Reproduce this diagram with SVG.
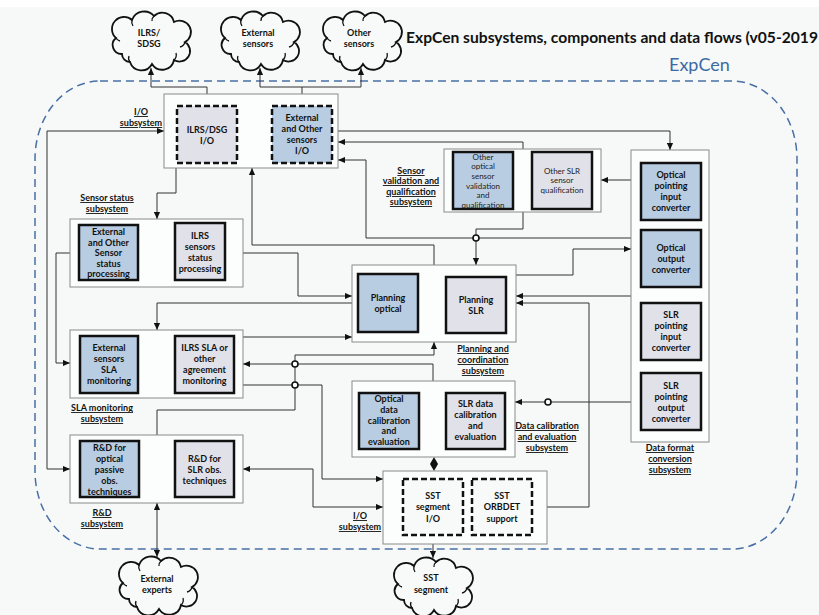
<svg xmlns="http://www.w3.org/2000/svg" width="819" height="615" viewBox="0 0 819 615">
<style>
.bg{fill:#f6f9f8}
.outer{fill:#fcfdfd;stroke:#8a8a8a;stroke-width:1}
.blue{fill:#b9cde2;stroke:#111;stroke-width:2.5}
.lav{fill:#e1e1ea;stroke:#111;stroke-width:2.5}
.dash{stroke-dasharray:6 3}
.plain{fill:#f8faf9;stroke:#111;stroke-width:2.5}
.cloud{fill:#f8faf9;stroke:#111;stroke-width:1.8}
.curl{fill:none;stroke:#111;stroke-width:1.3}
.t{font-family:Lato,"Liberation Sans",sans-serif;font-size:9px;font-weight:bold;text-anchor:middle;fill:#111}
.tn{font-family:Lato,"Liberation Sans",sans-serif;font-size:8px;text-anchor:middle;fill:#222}
.lbl{font-family:Lato,"Liberation Sans",sans-serif;font-size:9px;font-weight:bold;text-anchor:middle;fill:#111;text-decoration:underline}
.c{fill:none;stroke:#333;stroke-width:1}
.e{marker-end:url(#ah)}
.s{marker-start:url(#ah)}
.hop{fill:#fff;stroke:#111;stroke-width:1.6}
</style>
<defs>
<marker id="ah" viewBox="0 0 8 8" refX="8" refY="4" markerWidth="7" markerHeight="7" markerUnits="userSpaceOnUse" orient="auto-start-reverse">
<path d="M0,0.5 L8,4 L0,7.5 Z" fill="#111"/>
</marker>
<g id="cloud">
<path class="cloud" d="M-28,14 A9,9 0 0 1 -34,-2 A12,12 0 0 1 -18,-20 A13,13 0 0 1 4,-24 A12,12 0 0 1 24,-18 A11,11 0 0 1 35,2 A10,10 0 0 1 24,20 A12,12 0 0 1 2,24 A12,12 0 0 1 -20,22 A8,8 0 0 1 -28,14 Z"/>
<path class="curl" d="M-20,22 a6,6 0 0 1 -1,-6 M24,20 a7,7 0 0 0 2,-7 M35,2 a7,7 0 0 1 -5,5 M-18,-20 a7,7 0 0 0 1,6 M4,-24 a6,6 0 0 0 -2,5 M-34,-2 a6,6 0 0 0 4,3"/>
</g>
</defs>

<rect x="0" y="0" width="819" height="615" class="bg"/>
<rect x="0" y="0" width="819" height="7" fill="#ffffff"/>

<text x="406" y="43" font-family="Lato, 'Liberation Sans', sans-serif" font-size="15" font-weight="bold" fill="#111" textLength="412" lengthAdjust="spacingAndGlyphs">ExpCen subsystems, components and data flows (v05-2019</text>

<g id="expcen">
<rect x="35" y="81" width="762" height="468" rx="65" ry="78" fill="none" stroke="#4a6fa5" stroke-width="1.5" stroke-dasharray="8 5"/>
<text x="669" y="71" font-family="Lato, 'Liberation Sans', sans-serif" font-size="18" fill="#3d6aa3">ExpCen</text>
</g>

<g id="connectors">
<path class="c s e" d="M151,68 V87 H207 V106"/>
<path class="c s e" d="M260,68 V87 H361 V68"/>
<path class="c e" d="M302,87 V106"/>
<path class="c s e" d="M164,131 H47 V469 H70"/>
<path class="c e" d="M176,168 V193 H157 V219"/>
<path class="c e" d="M434,265 V245 H252 V168"/>
<path class="c e" d="M523,149 V142 H338"/>
<path class="c e" d="M631,238 H366 V160 H338"/>
<path class="c e" d="M523,212 V229 H476 V265"/>
<path class="c e" d="M338,131 H670 V150"/>
<path class="c e" d="M631,180 H601"/>
<path class="c e" d="M516,275 H573 V249 H631"/>
<path class="c e" d="M631,296 H516"/>
<path class="c e" d="M547,507 H589 V303 H516"/>
<path class="c e" d="M631,402 H515"/>
<path class="c e" d="M243,253 H298 V296 H352"/>
<path class="c e" d="M70,253 H56 V363 H70"/>
<path class="c e" d="M352,303 H157 V330"/>
<path class="c e" d="M243,337 H352"/>
<path class="c e" d="M433,381 V364 H243"/>
<path class="c e" d="M243,385 H322 V479 H383"/>
<path class="c s e" d="M243,469 H313 V507 H383"/>
<path class="c s" d="M434,342 V355 H295 V410 H157 V435"/>
<polygon points="434,457 438,464 434,471 430,464" fill="#111"/>
<path class="c s e" d="M157,503 V557"/>
<path class="c s e" d="M433,535 V558"/>
<circle class="hop" cx="476" cy="238" r="3"/>
<circle class="hop" cx="295" cy="364" r="3"/>
<circle class="hop" cx="295" cy="385" r="3"/>
<circle class="hop" cx="548" cy="402" r="3"/>
</g>

<g id="cloud-ilrs">
<use href="#cloud" x="150" y="40"/>
<text class="t" x="149" y="36">ILRS/</text>
<text class="t" x="149" y="47">SDSG</text>
</g>
<g id="cloud-external-sensors">
<use href="#cloud" x="259" y="40"/>
<text class="t" x="258" y="36">External</text>
<text class="t" x="258" y="47">sensors</text>
</g>
<g id="cloud-other-sensors">
<use href="#cloud" x="361" y="40"/>
<text class="t" x="359" y="36">Other</text>
<text class="t" x="359" y="47">sensors</text>
</g>
<g id="cloud-external-experts">
<use href="#cloud" x="157" y="585"/>
<text class="t" x="157" y="582">External</text>
<text class="t" x="157" y="593">experts</text>
</g>
<g id="cloud-sst-segment">
<use href="#cloud" x="432" y="586"/>
<text class="t" x="431" y="581">SST</text>
<text class="t" x="431" y="593">segment</text>
</g>

<g id="io-subsystem">
<rect class="outer" x="164" y="94" width="174" height="74"/>
<text class="lbl" x="141" y="115">I/O</text>
<text class="lbl" x="141" y="126">subsystem</text>
</g>
<g id="ilrs-dsg-io">
<rect class="lav dash" x="177" y="106" width="60" height="57"/>
<text class="t" x="207" y="133">ILRS/DSG</text>
<text class="t" x="207" y="144">I/O</text>
</g>
<g id="ext-other-sensors-io">
<rect class="blue dash" x="272" y="106" width="60" height="57"/>
<text class="t" x="302" y="121">External</text>
<text class="t" x="302" y="132">and Other</text>
<text class="t" x="302" y="143">sensors</text>
<text class="t" x="302" y="154">I/O</text>
</g>

<g id="sensor-validation-subsystem">
<rect class="outer" x="444" y="149" width="157" height="63"/>
<text class="lbl" x="411" y="174">Sensor</text>
<text class="lbl" x="411" y="184">validation and</text>
<text class="lbl" x="411" y="195">qualification</text>
<text class="lbl" x="411" y="205">subsystem</text>
</g>
<g id="other-optical-validation">
<rect class="blue" x="453" y="152" width="60" height="57"/>
<text class="tn" x="483" y="160">Other</text>
<text class="tn" x="483" y="169">optical</text>
<text class="tn" x="483" y="179">sensor</text>
<text class="tn" x="483" y="189">validation</text>
<text class="tn" x="483" y="198">and</text>
<text class="tn" x="483" y="208">qualification</text>
</g>
<g id="other-slr-qualification">
<rect class="lav" x="532" y="152" width="60" height="57"/>
<text class="tn" x="562" y="174">Other SLR</text>
<text class="tn" x="562" y="183">sensor</text>
<text class="tn" x="562" y="193">qualification</text>
</g>

<g id="data-format-subsystem">
<rect class="outer" x="631" y="150" width="78" height="292"/>
<text class="lbl" x="670" y="451">Data format</text>
<text class="lbl" x="670" y="462">conversion</text>
<text class="lbl" x="670" y="473">subsystem</text>
</g>
<g id="optical-pointing-input">
<rect class="blue" x="641" y="163" width="60" height="57"/>
<text class="t" x="671" y="178">Optical</text>
<text class="t" x="671" y="189">pointing</text>
<text class="t" x="671" y="200">input</text>
<text class="t" x="671" y="211">converter</text>
</g>
<g id="optical-output">
<rect class="blue" x="641" y="230" width="60" height="57"/>
<text class="t" x="671" y="251">Optical</text>
<text class="t" x="671" y="262">output</text>
<text class="t" x="671" y="273">converter</text>
</g>
<g id="slr-pointing-input">
<rect class="lav" x="641" y="303" width="60" height="57"/>
<text class="t" x="671" y="318">SLR</text>
<text class="t" x="671" y="329">pointing</text>
<text class="t" x="671" y="340">input</text>
<text class="t" x="671" y="351">converter</text>
</g>
<g id="slr-pointing-output">
<rect class="lav" x="641" y="373" width="60" height="57"/>
<text class="t" x="671" y="389">SLR</text>
<text class="t" x="671" y="400">pointing</text>
<text class="t" x="671" y="411">output</text>
<text class="t" x="671" y="422">converter</text>
</g>

<g id="sensor-status-subsystem">
<rect class="outer" x="70" y="219" width="173" height="68"/>
<text class="lbl" x="107" y="201">Sensor status</text>
<text class="lbl" x="107" y="212">subsystem</text>
</g>
<g id="ext-sensor-status">
<rect class="blue" x="79" y="225" width="59" height="55"/>
<text class="t" x="108.5" y="235">External</text>
<text class="t" x="108.5" y="245.5">and Other</text>
<text class="t" x="108.5" y="256">Sensor</text>
<text class="t" x="108.5" y="266.5">status</text>
<text class="t" x="108.5" y="277">processing</text>
</g>
<g id="ilrs-sensor-status">
<rect class="lav" x="175" y="223" width="50" height="57"/>
<text class="t" x="200" y="239">ILRS</text>
<text class="t" x="200" y="250">sensors</text>
<text class="t" x="200" y="261">status</text>
<text class="t" x="200" y="272">processing</text>
</g>

<g id="planning-subsystem">
<rect class="outer" x="352" y="265" width="164" height="77"/>
<text class="lbl" x="483" y="352">Planning and</text>
<text class="lbl" x="483" y="363">coordination</text>
<text class="lbl" x="483" y="374">subsystem</text>
</g>
<g id="planning-optical">
<rect class="blue" x="358" y="274" width="60" height="58"/>
<text class="t" x="388" y="301">Planning</text>
<text class="t" x="388" y="312">optical</text>
</g>
<g id="planning-slr">
<rect class="lav" x="446" y="277" width="60" height="56"/>
<text class="t" x="476" y="303">Planning</text>
<text class="t" x="476" y="314">SLR</text>
</g>

<g id="sla-subsystem">
<rect class="outer" x="70" y="330" width="173" height="68"/>
<text class="lbl" x="102" y="411">SLA monitoring</text>
<text class="lbl" x="102" y="422">subsystem</text>
</g>
<g id="ext-sla">
<rect class="blue" x="80" y="336" width="58" height="57"/>
<text class="t" x="109" y="351">External</text>
<text class="t" x="109" y="362">sensors</text>
<text class="t" x="109" y="373">SLA</text>
<text class="t" x="109" y="384">monitoring</text>
</g>
<g id="ilrs-sla">
<rect class="lav" x="175" y="336" width="59" height="57"/>
<text class="t" x="204.5" y="351">ILRS SLA or</text>
<text class="t" x="204.5" y="362">other</text>
<text class="t" x="204.5" y="373">agreement</text>
<text class="t" x="204.5" y="384">monitoring</text>
</g>

<g id="calibration-subsystem">
<rect class="outer" x="352" y="381" width="163" height="76"/>
<text class="lbl" x="547" y="429">Data calibration</text>
<text class="lbl" x="547" y="440">and evaluation</text>
<text class="lbl" x="547" y="451">subsystem</text>
</g>
<g id="optical-calibration">
<rect class="blue" x="359" y="393" width="60" height="56"/>
<text class="t" x="389" y="402">Optical</text>
<text class="t" x="389" y="413">data</text>
<text class="t" x="389" y="423.5">calibration</text>
<text class="t" x="389" y="434">and</text>
<text class="t" x="389" y="444.5">evaluation</text>
</g>
<g id="slr-calibration">
<rect class="lav" x="446" y="393" width="59" height="56"/>
<text class="t" x="475.5" y="407">SLR data</text>
<text class="t" x="475.5" y="418">calibration</text>
<text class="t" x="475.5" y="429">and</text>
<text class="t" x="475.5" y="440">evaluation</text>
</g>

<g id="rd-subsystem">
<rect class="outer" x="70" y="435" width="173" height="68"/>
<text class="lbl" x="102" y="516">R&amp;D</text>
<text class="lbl" x="102" y="527">subsystem</text>
</g>
<g id="rd-optical">
<rect class="blue" x="80" y="441" width="59" height="56"/>
<text class="t" x="109.5" y="451">R&amp;D for</text>
<text class="t" x="109.5" y="462">optical</text>
<text class="t" x="109.5" y="473">passive</text>
<text class="t" x="109.5" y="484">obs.</text>
<text class="t" x="109.5" y="495">techniques</text>
</g>
<g id="rd-slr">
<rect class="lav" x="175" y="441" width="59" height="56"/>
<text class="t" x="204.5" y="462">R&amp;D for</text>
<text class="t" x="204.5" y="473">SLR obs.</text>
<text class="t" x="204.5" y="484">techniques</text>
</g>

<g id="sst-subsystem">
<rect class="outer" x="383" y="471" width="164" height="73"/>
<text class="lbl" x="360" y="519">I/O</text>
<text class="lbl" x="360" y="530">subsystem</text>
</g>
<g id="sst-segment-io">
<rect class="plain dash" x="403" y="479" width="60" height="56"/>
<text class="t" x="433" y="499">SST</text>
<text class="t" x="433" y="510">segment</text>
<text class="t" x="433" y="522">I/O</text>
</g>
<g id="sst-orbdet">
<rect class="plain dash" x="472" y="479" width="60" height="56"/>
<text class="t" x="502" y="499">SST</text>
<text class="t" x="502" y="510">ORBDET</text>
<text class="t" x="502" y="522">support</text>
</g>
</svg>
